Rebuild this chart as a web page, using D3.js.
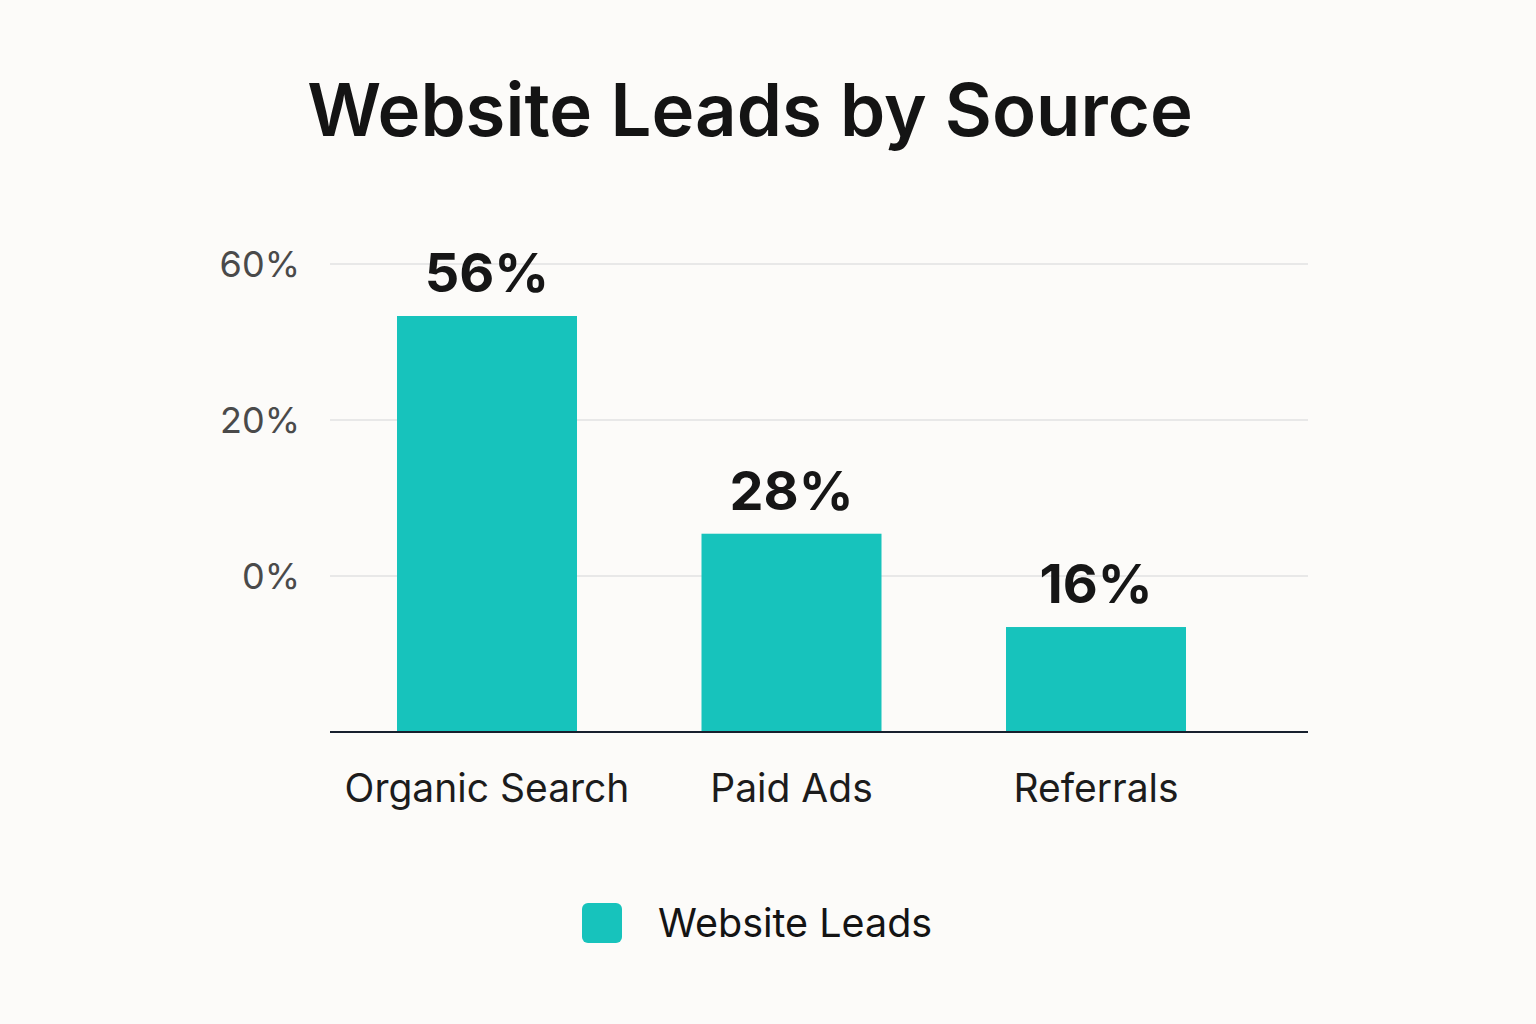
<!DOCTYPE html>
<html>
<head>
<meta charset="utf-8">
<script src="https://cdn.jsdelivr.net/npm/d3@7/dist/d3.min.js"></script>
<style>
  html, body { margin: 0; padding: 0; background: #fcfbf9; }
  svg { display: block; font-family: Inter, "Noto Sans", sans-serif; }
</style>
</head>
<body>
<svg id="chart" width="1536" height="1024"></svg>
<script>
const categories = ["Organic Search", "Paid Ads", "Referrals"];
const values = [56, 28, 16];
const valueLabels = ["56%", "28%", "16%"];
const tickLabels = ["", "0%", "20%", "60%"];
const seriesName = "Website Leads";
const titleText = "Website Leads by Source";

(function () {
const svg = d3.select("#chart");
const barColor = "#17c3bc";
const plotLeft = 330, plotRight = 1308, baseY = 732, plotTop = 264;

svg.append("rect").attr("width", 1536).attr("height", 1024).attr("fill", "#fcfbf9");

// Title
svg.append("text")
  .attr("x", 750).attr("y", 136)
  .attr("text-anchor", "middle")
  .attr("font-size", 72.5).attr("font-weight", 600)
  .attr("fill", "#141414")
  .text(titleText);

// Grid / tick scale (tick labels as shown in the reference)
const yTick = d3.scalePoint().domain(tickLabels).range([baseY, plotTop]);

svg.append("g").selectAll("line")
  .data(tickLabels.slice(1))
  .join("line")
  .attr("x1", plotLeft).attr("x2", plotRight)
  .attr("y1", d => yTick(d)).attr("y2", d => yTick(d))
  .attr("stroke", "#e2e2e2").attr("stroke-width", 1.5);

svg.append("g").selectAll("text")
  .data(tickLabels.slice(1))
  .join("text")
  .attr("x", 300).attr("y", d => yTick(d))
  .attr("dy", "0.35em")
  .attr("text-anchor", "end")
  .attr("font-size", 36)
  .attr("fill", "#4a4a4a")
  .text(d => d);

// Bar scales
const x = d3.scalePoint().domain(categories).range([487, 1096]);
const y = d3.scaleLinear().domain([2.5, 56]).range([baseY, 316]);
const barW = 180;

svg.append("g").selectAll("rect")
  .data(categories)
  .join("rect")
  .attr("x", d => x(d) - barW / 2)
  .attr("width", barW)
  .attr("y", (d, i) => y(values[i]))
  .attr("height", (d, i) => baseY - y(values[i]))
  .attr("fill", barColor);

// Value labels
svg.append("g").selectAll("text")
  .data(categories)
  .join("text")
  .attr("x", d => x(d))
  .attr("y", (d, i) => y(values[i]) - 24)
  .attr("text-anchor", "middle")
  .attr("font-size", 54).attr("font-weight", 700)
  .attr("fill", "#161616")
  .text((d, i) => valueLabels[i]);

// Baseline
svg.append("line")
  .attr("x1", plotLeft).attr("x2", plotRight)
  .attr("y1", baseY).attr("y2", baseY)
  .attr("stroke", "#17202e").attr("stroke-width", 2);

// Category labels
svg.append("g").selectAll("text")
  .data(categories)
  .join("text")
  .attr("x", d => x(d))
  .attr("y", 788)
  .attr("dy", "0.35em")
  .attr("text-anchor", "middle")
  .attr("font-size", 39)
  .attr("fill", "#1c1c1c")
  .text(d => d);

// Legend
const lg = svg.append("g");
lg.append("rect")
  .attr("x", 582).attr("y", 903).attr("width", 40).attr("height", 40)
  .attr("rx", 6).attr("fill", barColor);
lg.append("text")
  .attr("x", 658).attr("y", 923).attr("dy", "0.35em")
  .attr("font-size", 39.5).attr("fill", "#141414")
  .text(seriesName);
})();
</script>
</body>
</html>
